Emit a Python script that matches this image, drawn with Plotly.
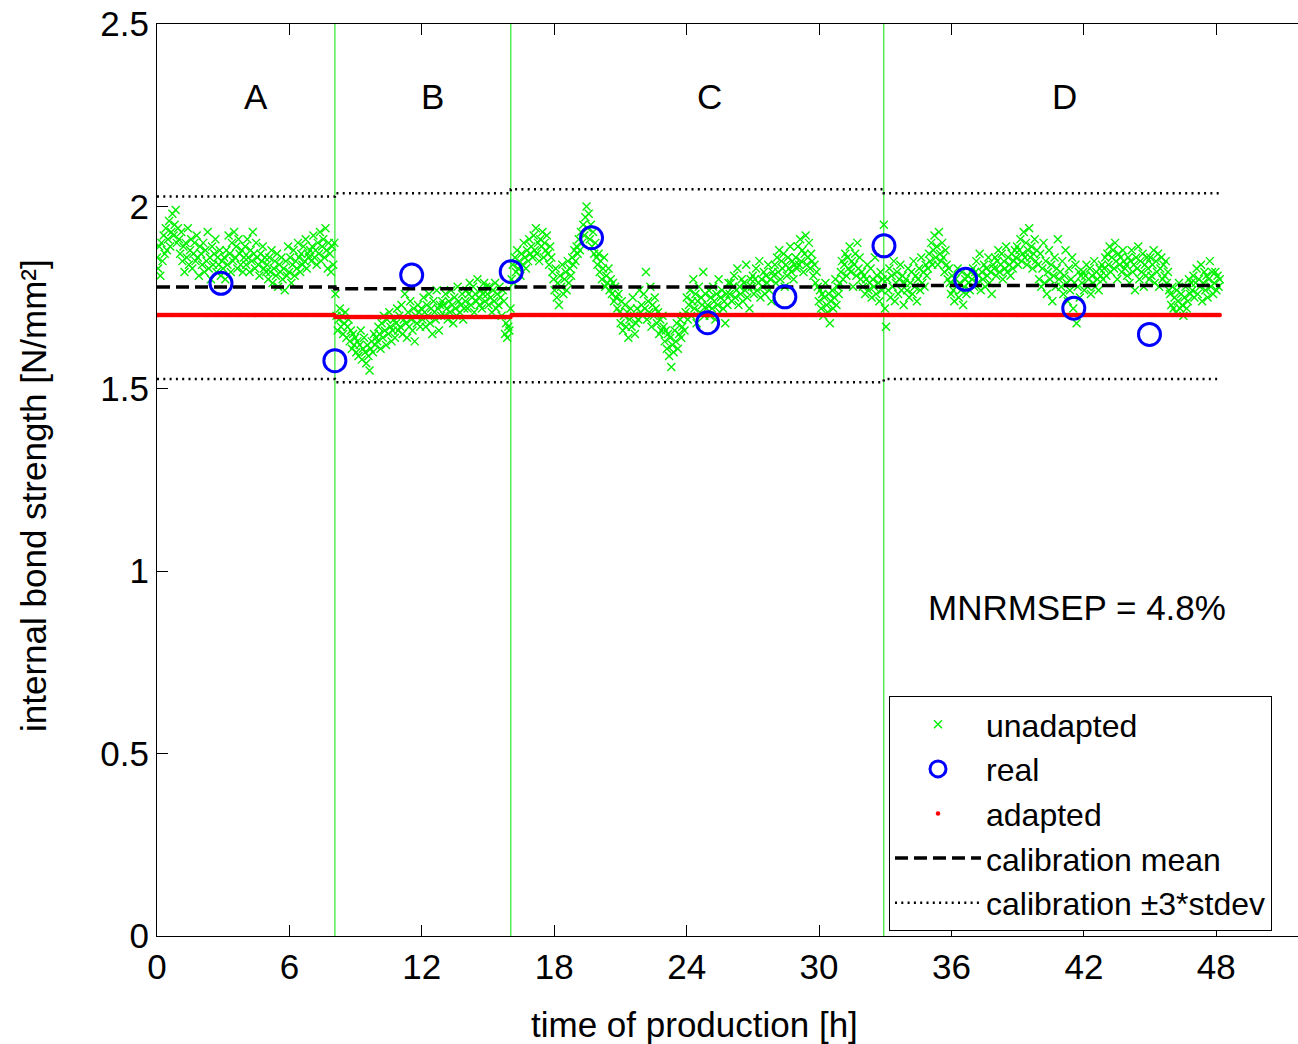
import numpy as np
import plotly.graph_objects as go

# ---------------- data ----------------
sample_step_h = 0.0499
unadapted = [
    1.86, 1.83, 1.89, 1.81, 1.90, 1.85, 1.92, 1.87, 1.94, 1.88, 1.91, 1.96, 1.89, 1.93, 1.98, 1.92, 1.95, 1.99, 1.90, 1.94,
    1.91, 1.87, 1.93, 1.85, 1.89, 1.82, 1.90, 1.86, 1.94, 1.84, 1.88, 1.91, 1.83, 1.87, 1.90, 1.85, 1.92, 1.86, 1.81, 1.89,
    1.87, 1.84, 1.90, 1.82, 1.88, 1.85, 1.93, 1.83, 1.86, 1.80, 1.89, 1.84, 1.87, 1.91, 1.82, 1.86, 1.84, 1.88, 1.81, 1.85,
    1.83, 1.86, 1.80, 1.88, 1.84, 1.92, 1.87, 1.82, 1.90, 1.85, 1.93, 1.86, 1.89, 1.83, 1.91, 1.87, 1.84, 1.88, 1.82, 1.86,
    1.89, 1.84, 1.91, 1.86, 1.82, 1.88, 1.85, 1.93, 1.87, 1.83, 1.90, 1.86, 1.84, 1.81, 1.87, 1.85, 1.89, 1.83, 1.86, 1.82,
    1.84, 1.80, 1.86, 1.82, 1.88, 1.79, 1.83, 1.85, 1.81, 1.87, 1.78, 1.84, 1.82, 1.86, 1.80, 1.83, 1.77, 1.85, 1.81, 1.89,
    1.82, 1.86, 1.79, 1.84, 1.88, 1.81, 1.85, 1.83, 1.90, 1.86, 1.82, 1.87, 1.84, 1.89, 1.85, 1.91, 1.83, 1.87, 1.86, 1.88,
    1.85, 1.89, 1.92, 1.86, 1.88, 1.84, 1.90, 1.87, 1.93, 1.85, 1.89, 1.91, 1.86, 1.94, 1.88, 1.83, 1.90, 1.87, 1.82, 1.89,
    1.84, 1.90, 1.76, 1.70, 1.66, 1.69, 1.72, 1.67, 1.70, 1.65, 1.68, 1.71, 1.64, 1.67, 1.69, 1.63, 1.66, 1.61, 1.65, 1.62,
    1.64, 1.60, 1.63, 1.59, 1.62, 1.66, 1.58, 1.61, 1.64, 1.60, 1.57, 1.62, 1.59, 1.55, 1.61, 1.63, 1.60, 1.65, 1.62, 1.64,
    1.63, 1.67, 1.65, 1.61, 1.68, 1.64, 1.70, 1.66, 1.62, 1.69, 1.65, 1.71, 1.67, 1.63, 1.66, 1.69, 1.64, 1.68, 1.72, 1.66,
    1.70, 1.67, 1.73, 1.65, 1.69, 1.76, 1.68, 1.64, 1.71, 1.67, 1.74, 1.69, 1.66, 1.72, 1.63, 1.70, 1.68, 1.73, 1.71, 1.67,
    1.72, 1.69, 1.75, 1.71, 1.67, 1.73, 1.70, 1.76, 1.68, 1.72, 1.65, 1.74, 1.71, 1.69, 1.77, 1.72, 1.66, 1.73, 1.70, 1.74,
    1.73, 1.70, 1.76, 1.72, 1.69, 1.74, 1.71, 1.77, 1.73, 1.68, 1.75, 1.72, 1.70, 1.78, 1.74, 1.71, 1.73, 1.76, 1.69, 1.72,
    1.74, 1.77, 1.72, 1.76, 1.79, 1.73, 1.75, 1.78, 1.71, 1.76, 1.74, 1.80, 1.75, 1.73, 1.77, 1.72, 1.76, 1.79, 1.74, 1.78,
    1.76, 1.73, 1.78, 1.75, 1.71, 1.77, 1.74, 1.79, 1.72, 1.76, 1.73, 1.78, 1.75, 1.70, 1.77, 1.74, 1.65, 1.68, 1.64, 1.67,
    1.66, 1.72, 1.80, 1.84, 1.79, 1.86, 1.82, 1.88, 1.83, 1.85, 1.81, 1.87, 1.84, 1.90, 1.86, 1.83, 1.88, 1.85, 1.91, 1.87,
    1.89, 1.86, 1.92, 1.88, 1.94, 1.87, 1.90, 1.85, 1.91, 1.89, 1.93, 1.86, 1.90, 1.88, 1.92, 1.87, 1.84, 1.89, 1.86, 1.82,
    1.80, 1.77, 1.83, 1.75, 1.79, 1.73, 1.81, 1.78, 1.84, 1.76, 1.80, 1.82, 1.77, 1.85, 1.79, 1.83, 1.81, 1.86, 1.84, 1.88,
    1.85, 1.89, 1.87, 1.91, 1.88, 1.93, 1.90, 1.95, 1.92, 1.97, 2.00, 1.94, 1.98, 1.91, 1.95, 1.89, 1.93, 1.87, 1.90, 1.86,
    1.84, 1.87, 1.82, 1.85, 1.80, 1.83, 1.86, 1.78, 1.81, 1.79, 1.83, 1.77, 1.80, 1.76, 1.79, 1.74, 1.78, 1.75, 1.72, 1.76,
    1.71, 1.68, 1.74, 1.66, 1.70, 1.73, 1.67, 1.71, 1.64, 1.69, 1.72, 1.67, 1.75, 1.70, 1.65, 1.68, 1.72, 1.69, 1.77, 1.71,
    1.73, 1.70, 1.76, 1.72, 1.82, 1.69, 1.74, 1.71, 1.78, 1.67, 1.73, 1.70, 1.75, 1.72, 1.68, 1.71, 1.65, 1.69, 1.66, 1.70,
    1.67, 1.63, 1.66, 1.61, 1.65, 1.59, 1.64, 1.56, 1.62, 1.60, 1.66, 1.63, 1.68, 1.61, 1.65, 1.69, 1.64, 1.67, 1.70, 1.66,
    1.71, 1.75, 1.69, 1.73, 1.77, 1.70, 1.74, 1.80, 1.72, 1.76, 1.68, 1.74, 1.78, 1.71, 1.75, 1.73, 1.82, 1.70, 1.76, 1.72,
    1.73, 1.77, 1.70, 1.75, 1.72, 1.78, 1.74, 1.69, 1.76, 1.73, 1.80, 1.71, 1.75, 1.77, 1.72, 1.74, 1.68, 1.76, 1.73, 1.79,
    1.76, 1.79, 1.74, 1.78, 1.81, 1.75, 1.77, 1.83, 1.73, 1.78, 1.76, 1.80, 1.74, 1.79, 1.77, 1.84, 1.75, 1.78, 1.72, 1.80,
    1.78, 1.81, 1.76, 1.80, 1.83, 1.77, 1.79, 1.85, 1.75, 1.80, 1.78, 1.82, 1.76, 1.81, 1.79, 1.84, 1.77, 1.80, 1.74, 1.82,
    1.81, 1.84, 1.79, 1.86, 1.82, 1.88, 1.80, 1.85, 1.83, 1.87, 1.78, 1.84, 1.81, 1.86, 1.83, 1.89, 1.82, 1.85, 1.80, 1.84,
    1.86, 1.83, 1.89, 1.84, 1.91, 1.85, 1.88, 1.82, 1.87, 1.92, 1.84, 1.86, 1.90, 1.83, 1.87, 1.85, 1.81, 1.84, 1.79, 1.82,
    1.78, 1.74, 1.77, 1.72, 1.76, 1.70, 1.75, 1.79, 1.73, 1.71, 1.76, 1.68, 1.74, 1.77, 1.72, 1.75, 1.80, 1.73, 1.78, 1.76,
    1.79, 1.82, 1.85, 1.80, 1.84, 1.87, 1.81, 1.86, 1.83, 1.89, 1.82, 1.85, 1.78, 1.84, 1.87, 1.81, 1.90, 1.83, 1.86, 1.80,
    1.82, 1.78, 1.81, 1.76, 1.80, 1.84, 1.77, 1.79, 1.83, 1.75, 1.80, 1.78, 1.86, 1.76, 1.81, 1.79, 1.74, 1.82, 1.77, 1.80,
    1.95, 1.72, 1.67, 1.80, 1.77, 1.83, 1.75, 1.81, 1.78, 1.85, 1.74, 1.79, 1.82, 1.76, 1.80, 1.84, 1.77, 1.81, 1.73, 1.79,
    1.80, 1.77, 1.83, 1.75, 1.79, 1.82, 1.76, 1.85, 1.78, 1.81, 1.74, 1.80, 1.83, 1.77, 1.86, 1.79, 1.82, 1.78, 1.84, 1.81,
    1.83, 1.87, 1.85, 1.90, 1.84, 1.88, 1.92, 1.86, 1.89, 1.84, 1.93, 1.87, 1.85, 1.90, 1.86, 1.82, 1.88, 1.84, 1.80, 1.83,
    1.79, 1.76, 1.81, 1.77, 1.74, 1.80, 1.78, 1.83, 1.75, 1.79, 1.77, 1.82, 1.73, 1.78, 1.80, 1.76, 1.81, 1.79, 1.77, 1.82,
    1.80, 1.83, 1.78, 1.82, 1.85, 1.79, 1.81, 1.87, 1.77, 1.82, 1.80, 1.84, 1.78, 1.83, 1.81, 1.86, 1.79, 1.82, 1.76, 1.84,
    1.83, 1.86, 1.81, 1.85, 1.88, 1.82, 1.84, 1.87, 1.80, 1.85, 1.83, 1.89, 1.82, 1.86, 1.84, 1.81, 1.87, 1.83, 1.85, 1.88,
    1.86, 1.89, 1.84, 1.88, 1.91, 1.85, 1.87, 1.93, 1.86, 1.90, 1.84, 1.88, 1.94, 1.86, 1.89, 1.83, 1.87, 1.91, 1.85, 1.88,
    1.84, 1.80, 1.87, 1.78, 1.83, 1.90, 1.79, 1.85, 1.76, 1.82, 1.88, 1.80, 1.84, 1.74, 1.81, 1.86, 1.78, 1.83, 1.91, 1.80,
    1.82, 1.78, 1.85, 1.76, 1.81, 1.88, 1.79, 1.74, 1.83, 1.77, 1.80, 1.86, 1.72, 1.79, 1.84, 1.68, 1.78, 1.82, 1.75, 1.81,
    1.79, 1.82, 1.77, 1.81, 1.84, 1.78, 1.80, 1.83, 1.76, 1.81, 1.79, 1.85, 1.78, 1.82, 1.80, 1.77, 1.83, 1.81, 1.84, 1.80,
    1.83, 1.86, 1.81, 1.87, 1.84, 1.89, 1.82, 1.86, 1.88, 1.83, 1.90, 1.85, 1.80, 1.87, 1.84, 1.86, 1.82, 1.88, 1.85, 1.83,
    1.84, 1.81, 1.86, 1.79, 1.85, 1.88, 1.82, 1.84, 1.77, 1.86, 1.83, 1.89, 1.80, 1.85, 1.82, 1.87, 1.78, 1.84, 1.81, 1.86,
    1.83, 1.80, 1.86, 1.81, 1.84, 1.88, 1.79, 1.85, 1.82, 1.87, 1.78, 1.83, 1.86, 1.80, 1.84, 1.81, 1.85, 1.79, 1.82, 1.77,
    1.76, 1.73, 1.78, 1.72, 1.75, 1.71, 1.77, 1.74, 1.79, 1.72, 1.76, 1.73, 1.70, 1.75, 1.78, 1.72, 1.74, 1.80, 1.76, 1.79,
    1.77, 1.81, 1.75, 1.79, 1.83, 1.76, 1.80, 1.78, 1.84, 1.74, 1.79, 1.82, 1.77, 1.81, 1.75, 1.80, 1.85, 1.78, 1.82, 1.76,
    1.79, 1.82, 1.77, 1.81, 1.78, 1.80,
]
sample_time = np.arange(len(unadapted)) * sample_step_h

real_time = [2.90, 8.06, 11.54, 16.05, 19.69, 24.95, 28.45, 32.94, 36.64, 41.54, 44.97]
real_value = [1.789, 1.577, 1.812, 1.821, 1.914, 1.681, 1.752, 1.892, 1.800, 1.721, 1.649]

segment_edges = [0.0, 8.06, 16.03, 32.93, 48.16]
segment_labels = ["A", "B", "C", "D"]
segment_label_x = [4.48, 12.5, 25.05, 41.12]
adapted_seg = [1.702, 1.697, 1.702, 1.702]
calib_mean_seg = [1.779, 1.774, 1.779, 1.783]
calib_upper_seg = [2.027, 2.036, 2.047, 2.036]
calib_lower_seg = [1.527, 1.518, 1.518, 1.527]

x_ticks = [0, 6, 12, 18, 24, 30, 36, 42, 48]
y_ticks = [0, 0.5, 1, 1.5, 2, 2.5]
y_tick_text = ["0", "0.5", "1", "1.5", "2", "2.5"]

# ---------------- derived ----------------
seg_index = np.clip(np.searchsorted(segment_edges, sample_time, side="right") - 1, 0, len(adapted_seg) - 1)
adapted_series = np.array(adapted_seg)[seg_index]

def step_y(seg):
    return list(seg) + [seg[-1]]

FONT = "Liberation Sans, Arial, Helvetica, sans-serif"
FS = 35
X_MAX = 51.7

fig = go.Figure()

fig.add_trace(go.Scatter(
    x=sample_time, y=unadapted, mode="markers", name="unadapted", legendrank=1,
    marker=dict(symbol="x-thin", size=8, color="#00f000", line=dict(width=1.4, color="#00f000")),
))
fig.add_trace(go.Scatter(
    x=sample_time, y=adapted_series, mode="markers", name="adapted", legendrank=3,
    marker=dict(symbol="circle", size=4.5, color="#ff0000", line=dict(width=0)),
))
fig.add_trace(go.Scatter(
    x=segment_edges, y=step_y(calib_mean_seg), mode="lines", name="calibration mean", legendrank=4,
    line=dict(color="black", width=3.5, dash="13px,6px", shape="hv"),
))
fig.add_trace(go.Scatter(
    x=segment_edges, y=step_y(calib_upper_seg), mode="lines", name="calibration \u00b13*stdev", legendrank=5,
    line=dict(color="black", width=2.5, dash="2px,4.3px", shape="hv"),
))
fig.add_trace(go.Scatter(
    x=segment_edges, y=step_y(calib_lower_seg), mode="lines", showlegend=False,
    line=dict(color="black", width=2.5, dash="2px,4.3px", shape="hv"),
))
fig.add_trace(go.Scatter(
    x=real_time, y=real_value, mode="markers", name="real", legendrank=2,
    marker=dict(symbol="circle-open", size=22, color="#0000ff", line=dict(width=3, color="#0000ff")),
))

# segment boundaries
for xb in segment_edges[1:-1]:
    fig.add_shape(type="line", xref="x", yref="paper", x0=xb, x1=xb, y0=0, y1=1,
                  line=dict(color="rgb(60,235,60)", width=1.3), layer="below")

# segment labels
for lab, lx in zip(segment_labels, segment_label_x):
    fig.add_annotation(x=lx, y=2.30, text=lab, showarrow=False, font=dict(size=FS, color="black", family=FONT))

fig.add_annotation(x=41.67, y=0.90, text="MNRMSEP = 4.8%", showarrow=False,
                   font=dict(size=FS, color="black", family=FONT))

fig.add_annotation(xref="paper", yref="paper", x=(694 - 157) / 1141, y=(936 - 1024) / 912,
                   text="time of production [h]", showarrow=False, xanchor="center", yanchor="middle",
                   font=dict(size=FS, color="black", family=FONT))
fig.add_annotation(xref="paper", yref="paper", x=(33 - 157) / 1141, y=(936 - 496) / 912,
                   text="internal bond strength [N/mm\u00b2]", showarrow=False, textangle=-90,
                   xanchor="center", yanchor="middle",
                   font=dict(size=FS, color="black", family=FONT))

fig.update_layout(
    width=1298, height=1044,
    margin=dict(l=157, r=0, t=24, b=108, autoexpand=False),
    paper_bgcolor="white", plot_bgcolor="white",
    font=dict(family=FONT, size=FS, color="black"),
    showlegend=True,
    legend=dict(
        x=(889 - 157) / 1141, y=(936 - 696) / 912, xanchor="left", yanchor="top",
        bgcolor="white", bordercolor="black", borderwidth=1,
        font=dict(size=32, family=FONT, color="black"),
        itemwidth=86, tracegroupgap=0,
    ),
    xaxis=dict(
        range=[0, X_MAX], tickvals=x_ticks, ticktext=[str(t) for t in x_ticks],
        ticks="inside", ticklen=11, tickwidth=1, tickcolor="black",
        showline=True, linecolor="black", linewidth=1, mirror="ticks",
        showgrid=False, zeroline=False,
        tickfont=dict(size=FS, family=FONT, color="black"),
    ),
    yaxis=dict(
        range=[0, 2.5], tickvals=y_ticks, ticktext=y_tick_text,
        ticks="inside", ticklen=11, tickwidth=1, tickcolor="black",
        showline=True, linecolor="black", linewidth=1, mirror=False,
        showgrid=False, zeroline=False,
        tickfont=dict(size=FS, family=FONT, color="black"),
    ),
)

fig.write_html(
    "out.html",
    config={"displayModeBar": False},
    post_script="document.body.style.margin='0px';document.body.style.overflow='hidden';",
)
